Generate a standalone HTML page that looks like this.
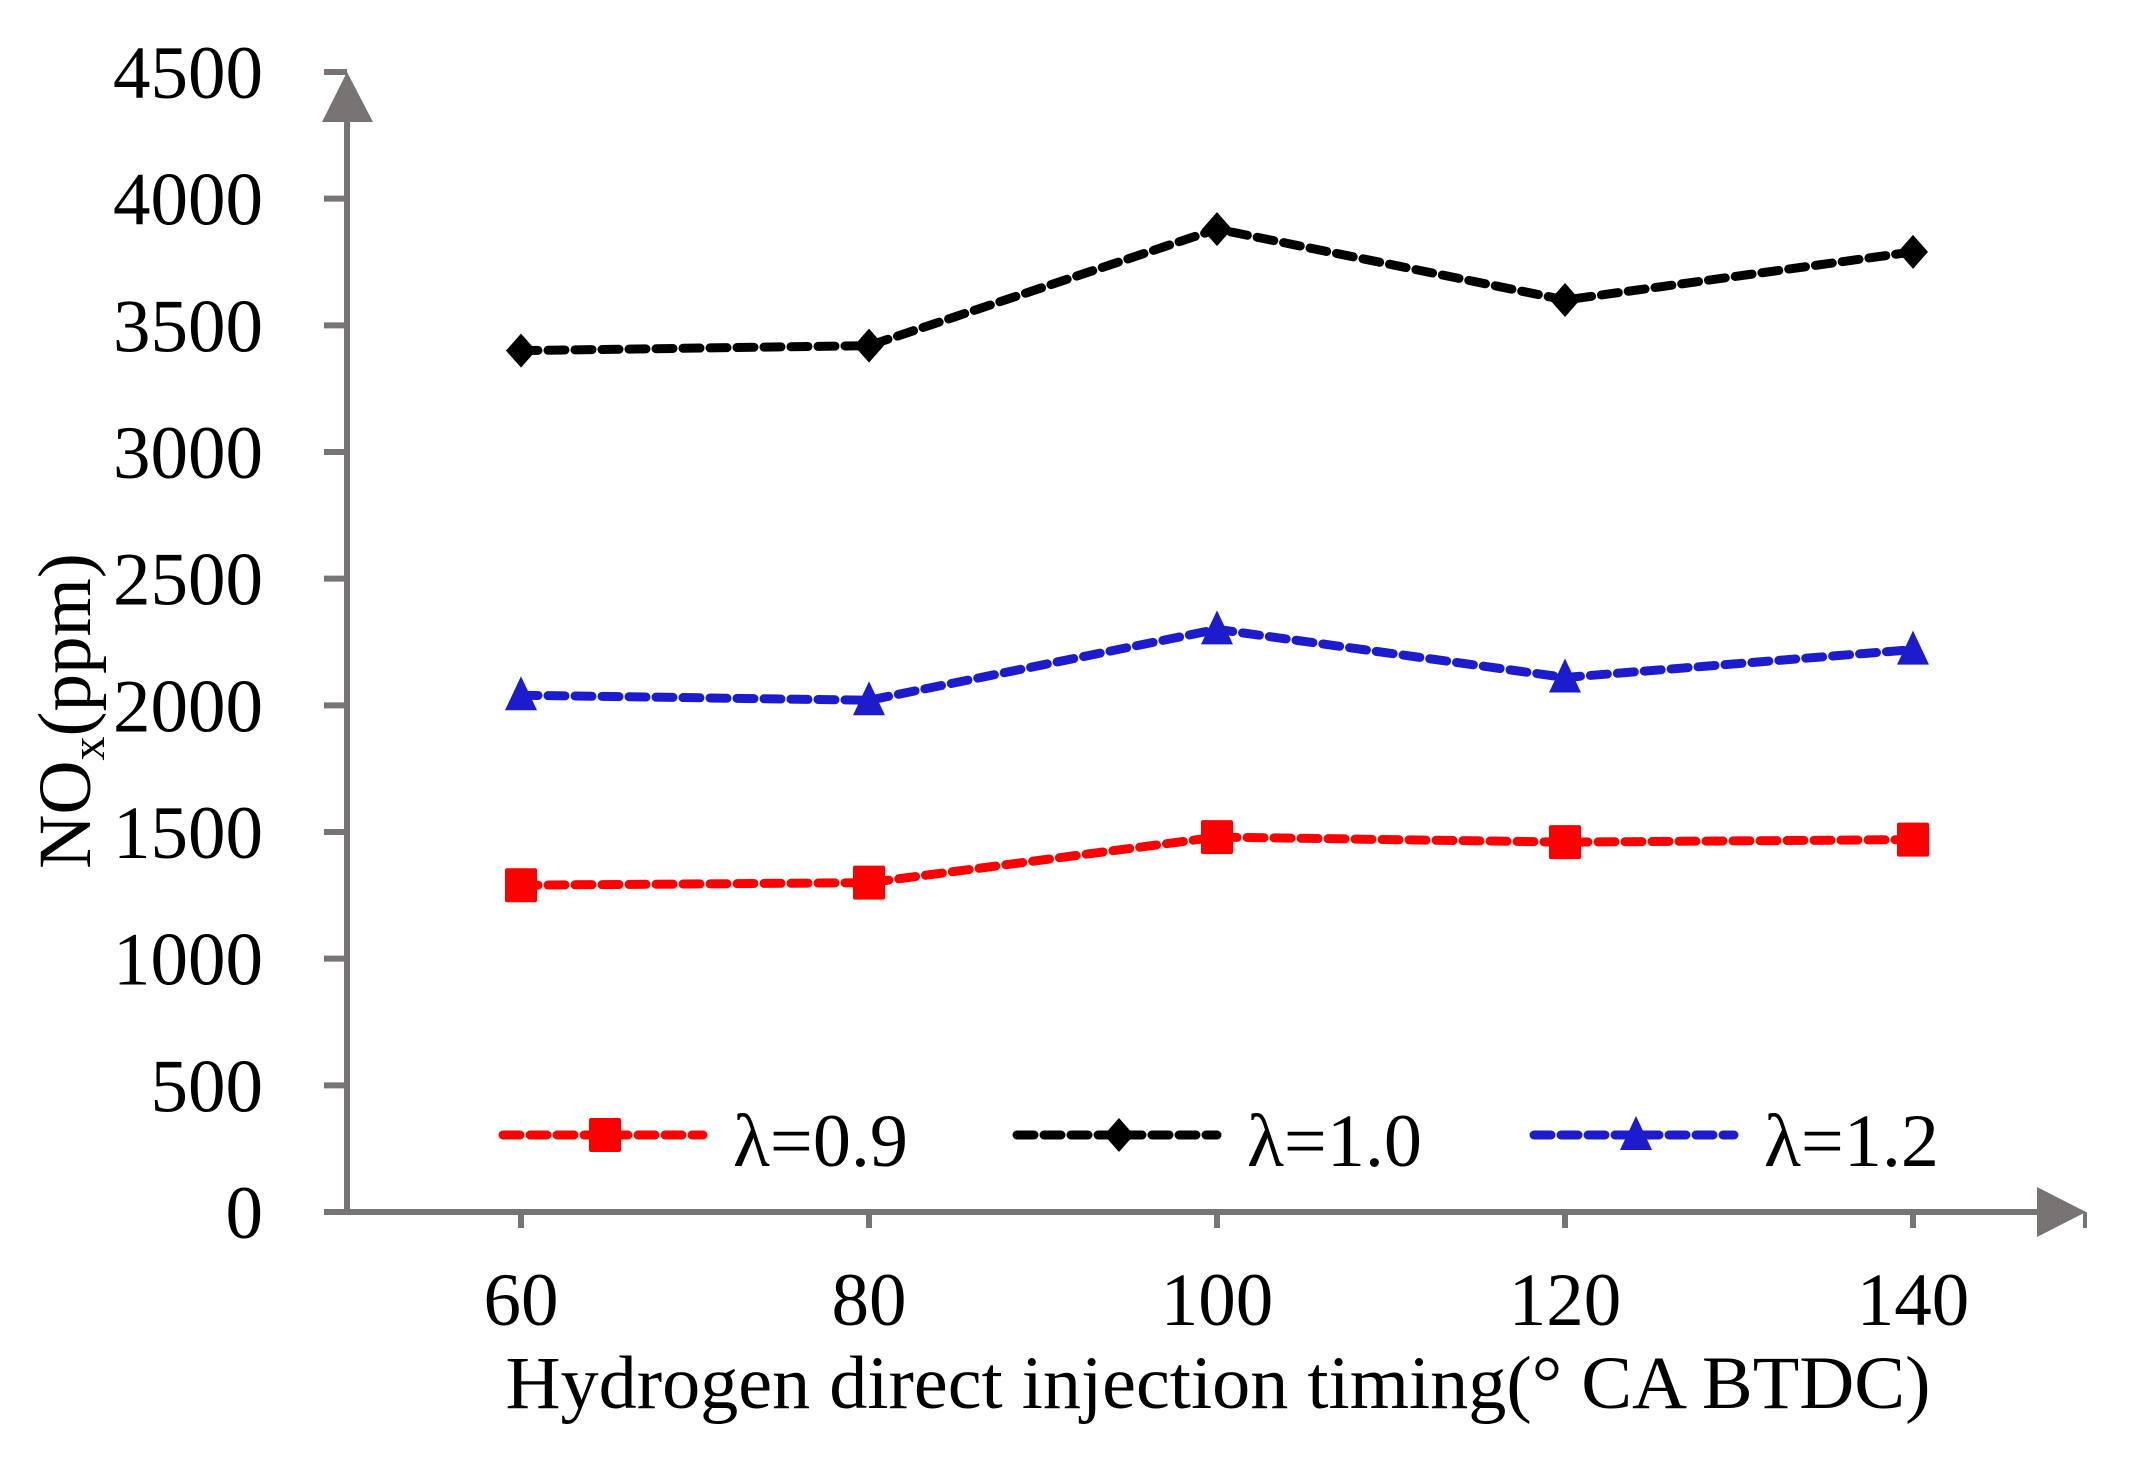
<!DOCTYPE html>
<html><head><meta charset="utf-8"><style>
html,body{margin:0;padding:0;background:#fff;}
svg{display:block;font-family:"Liberation Serif",serif;}
</style></head><body>
<svg id="chart" width="2131" height="1462" viewBox="0 0 2131 1462" xmlns="http://www.w3.org/2000/svg">
<g id="axes"></g>
<g id="series"></g>
<g id="legend"></g>
<text x="1218" y="1408" font-size="75" text-anchor="middle" textLength="1425" lengthAdjust="spacingAndGlyphs">Hydrogen direct injection timing(°  CA BTDC)</text>
<text transform="translate(90,711) rotate(-90)" font-size="75" text-anchor="middle">NO<tspan font-size="48" dy="14">x</tspan><tspan dy="-14">(ppm)</tspan></text>
</svg>
<script>
const categories = [60, 80, 100, 120, 140];
const yTicks = [0, 500, 1000, 1500, 2000, 2500, 3000, 3500, 4000, 4500];
const seriesNames = ["λ=0.9", "λ=1.0", "λ=1.2"];
const lambda09 = [1290, 1300, 1480, 1460, 1470];
const lambda10 = [3400, 3420, 3880, 3600, 3790];
const lambda12 = [2040, 2020, 2300, 2110, 2220];

const NS = "http://www.w3.org/2000/svg";
const x = v => 521 + (v - 60) * (348 / 20);
const y = v => 1212 - v * (1140 / 4500);
const gray = "#787474";
function mk(tag, attrs, parent) {
  const e = document.createElementNS(NS, tag);
  for (const k in attrs) e.setAttribute(k, attrs[k]);
  parent.appendChild(e);
  return e;
}
const axes = document.getElementById('axes');
let e;
e = mk('line', {x1: 347, y1: 1215, x2: 347, y2: 110, stroke: gray, 'stroke-width': 6}, axes);


e = mk('polygon', {points: '347,72 322,122 373,122', fill: gray}, axes);


e = mk('line', {x1: 324, y1: 1212, x2: 2050, y2: 1212, stroke: gray, 'stroke-width': 6}, axes);


e = mk('polygon', {points: '2037,1187 2086,1212 2037,1237', fill: gray}, axes);


e = mk('line', {x1: 2085, y1: 1212, x2: 2085, y2: 1228, stroke: gray, 'stroke-width': 4}, axes);


yTicks.forEach(t => {
  const ty = y(t);
  const l = mk('line', {x1: 324, y1: ty, x2: 347, y2: ty, stroke: gray, 'stroke-width': 6}, axes);
  
  
  const tx = mk('text', {x: 263, y: ty + 26, 'font-size': 75, 'text-anchor': 'end'}, axes);
  tx.textContent = t;
  
  
});
categories.forEach(c => {
  const cx = x(c);
  const l = mk('line', {x1: cx, y1: 1212, x2: cx, y2: 1228, stroke: gray, 'stroke-width': 6}, axes);
  
  
  const tx = mk('text', {x: cx, y: 1325, 'font-size': 75, 'text-anchor': 'middle'}, axes);
  tx.textContent = c;
  
  
});

function marker(kind, cx, cy, color, parent) {
  let m;
  if (kind === 'square') m = mk('rect', {x: cx - 16, y: cy - 17, width: 32, height: 34, rx: 2, fill: color}, parent);
  else if (kind === 'diamond') m = mk('polygon', {points: `${cx},${cy-17} ${cx+15},${cy} ${cx},${cy+17} ${cx-15},${cy}`, fill: color}, parent);
  else m = mk('polygon', {points: `${cx},${cy-19} ${cx+16},${cy+15} ${cx-16},${cy+15}`, fill: color}, parent);
  return m;
}
const ser = document.getElementById('series');
const defs = [
  {vals: lambda09, color: '#ff0000', kind: 'square', name: 'series-lambda-0-9'},
  {vals: lambda10, color: '#000000', kind: 'diamond', name: 'series-lambda-1-0'},
  {vals: lambda12, color: '#1c1ccc', kind: 'triangle', name: 'series-lambda-1-2'}
];
defs.forEach(d => {
  const pts = d.vals.map((v, i) => x(categories[i]) + ',' + y(v)).join(' ');
  const pl = mk('polyline', {points: pts, fill: 'none', stroke: d.color, 'stroke-width': 9, 'stroke-dasharray': '17 10', 'stroke-linecap': 'round'}, ser);
  
  
  d.vals.forEach((v, i) => {
    const m = marker(d.kind, x(categories[i]), y(v), d.color, ser);
    
    
  });
});
const leg = document.getElementById('legend');
const lx = [499, 1013, 1530];
defs.forEach((d, i) => {
  const g = mk('g', {}, leg);
  
  
  mk('line', {x1: lx[i] + 4, y1: 1135, x2: lx[i] + 204, y2: 1135, stroke: d.color, 'stroke-width': 9, 'stroke-dasharray': '17 10', 'stroke-linecap': 'round'}, g);
  marker(d.kind, lx[i] + 106, 1135, d.color, g);
  const t = mk('text', {x: lx[i] + 234, y: 1166, 'font-size': 75, textLength: 175, lengthAdjust: 'spacingAndGlyphs'}, g);
  t.textContent = seriesNames[i];
});
</script>
</body></html>
